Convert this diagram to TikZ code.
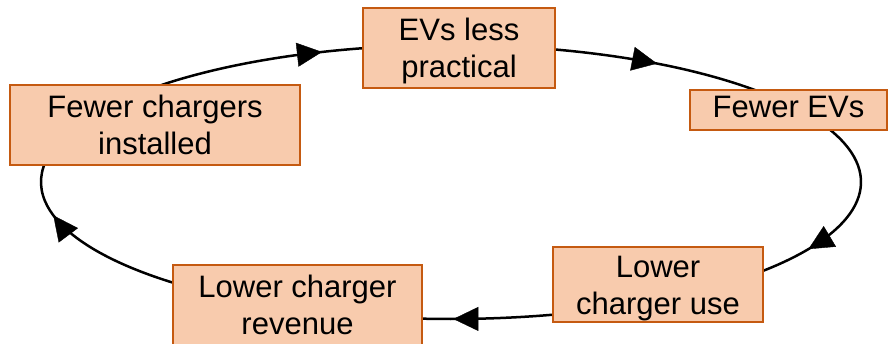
\documentclass[tikz,border=0pt]{standalone}
\usepackage{fontspec}
\setmainfont{Liberation Sans}
\usetikzlibrary{arrows.meta, positioning, decorations.markings}
\definecolor{boxfill}{HTML}{F8CBAD}
\definecolor{boxline}{HTML}{C55A11}

\begin{document}
\begin{tikzpicture}[x=1pt, y=1pt,
    box/.style={rectangle, draw=boxline, fill=boxfill, line width=2.2pt, align=center, inner sep=0pt,
        text height=60pt, text depth=1pt, font=\fontsize{31}{37}\selectfont},
    loop/.style={line width=2.5pt},
    looptip/.style={decorate, decoration={markings, mark=at position 0.999 with {\arrow{Triangle[length=25pt, width=24pt]}}}},
    ring/.style={x radius=410pt, y radius=137pt}]
    \useasboundingbox (0,0) rectangle (891,343);
    % Points on the loop, hidden inside the boxes
    \coordinate (centre) at (451,161);
    \coordinate (p_chargers) at ([shift={(150:410pt and 137pt)}]centre);
    \coordinate (p_practical) at ([shift={(89:410pt and 137pt)}]centre);
    \coordinate (p_evs) at ([shift={(35:410pt and 137pt)}]centre);
    \coordinate (p_use) at ([shift={(-60:410pt and 137pt)}]centre);
    \coordinate (p_revenue) at ([shift={(-112:410pt and 137pt)}]centre);
    % Loop segments
    \draw[loop] (p_chargers) arc[start angle=150, end angle=89, ring];
    \path[looptip] (p_chargers) arc[start angle=150, end angle=108.3, ring];
    \draw[loop] (p_practical) arc[start angle=89, end angle=35, ring];
    \path[looptip] (p_practical) arc[start angle=89, end angle=59.8, ring];
    \draw[loop] (p_evs) arc[start angle=35, end angle=-60, ring];
    \path[looptip] (p_evs) arc[start angle=35, end angle=-29.4, ring];
    \draw[loop] (p_use) arc[start angle=-60, end angle=-112, ring];
    \path[looptip] (p_use) arc[start angle=-60, end angle=-89.7, ring];
    \draw[loop] (p_revenue) arc[start angle=248, end angle=150, ring];
    \path[looptip] (p_revenue) arc[start angle=248, end angle=194, ring];
    % Boxes
    \node[box, minimum width=192pt, minimum height=80pt] (practical) at (459,295) {EVs less\\practical};
    \node[box, minimum width=197pt, minimum height=40pt, text height=18pt, text depth=2pt] (evs) at (788.5,233) {Fewer EVs};
    \node[box, minimum width=290pt, minimum height=80pt] (chargers) at (155,218) {Fewer chargers\\installed};
    \node[box, minimum width=210pt, minimum height=75pt] (use) at (658,58.5) {Lower\\charger use};
    \node[box, minimum width=249pt, minimum height=80pt] (revenue) at (297.5,38) {Lower charger\\revenue};
\end{tikzpicture}
\end{document}
